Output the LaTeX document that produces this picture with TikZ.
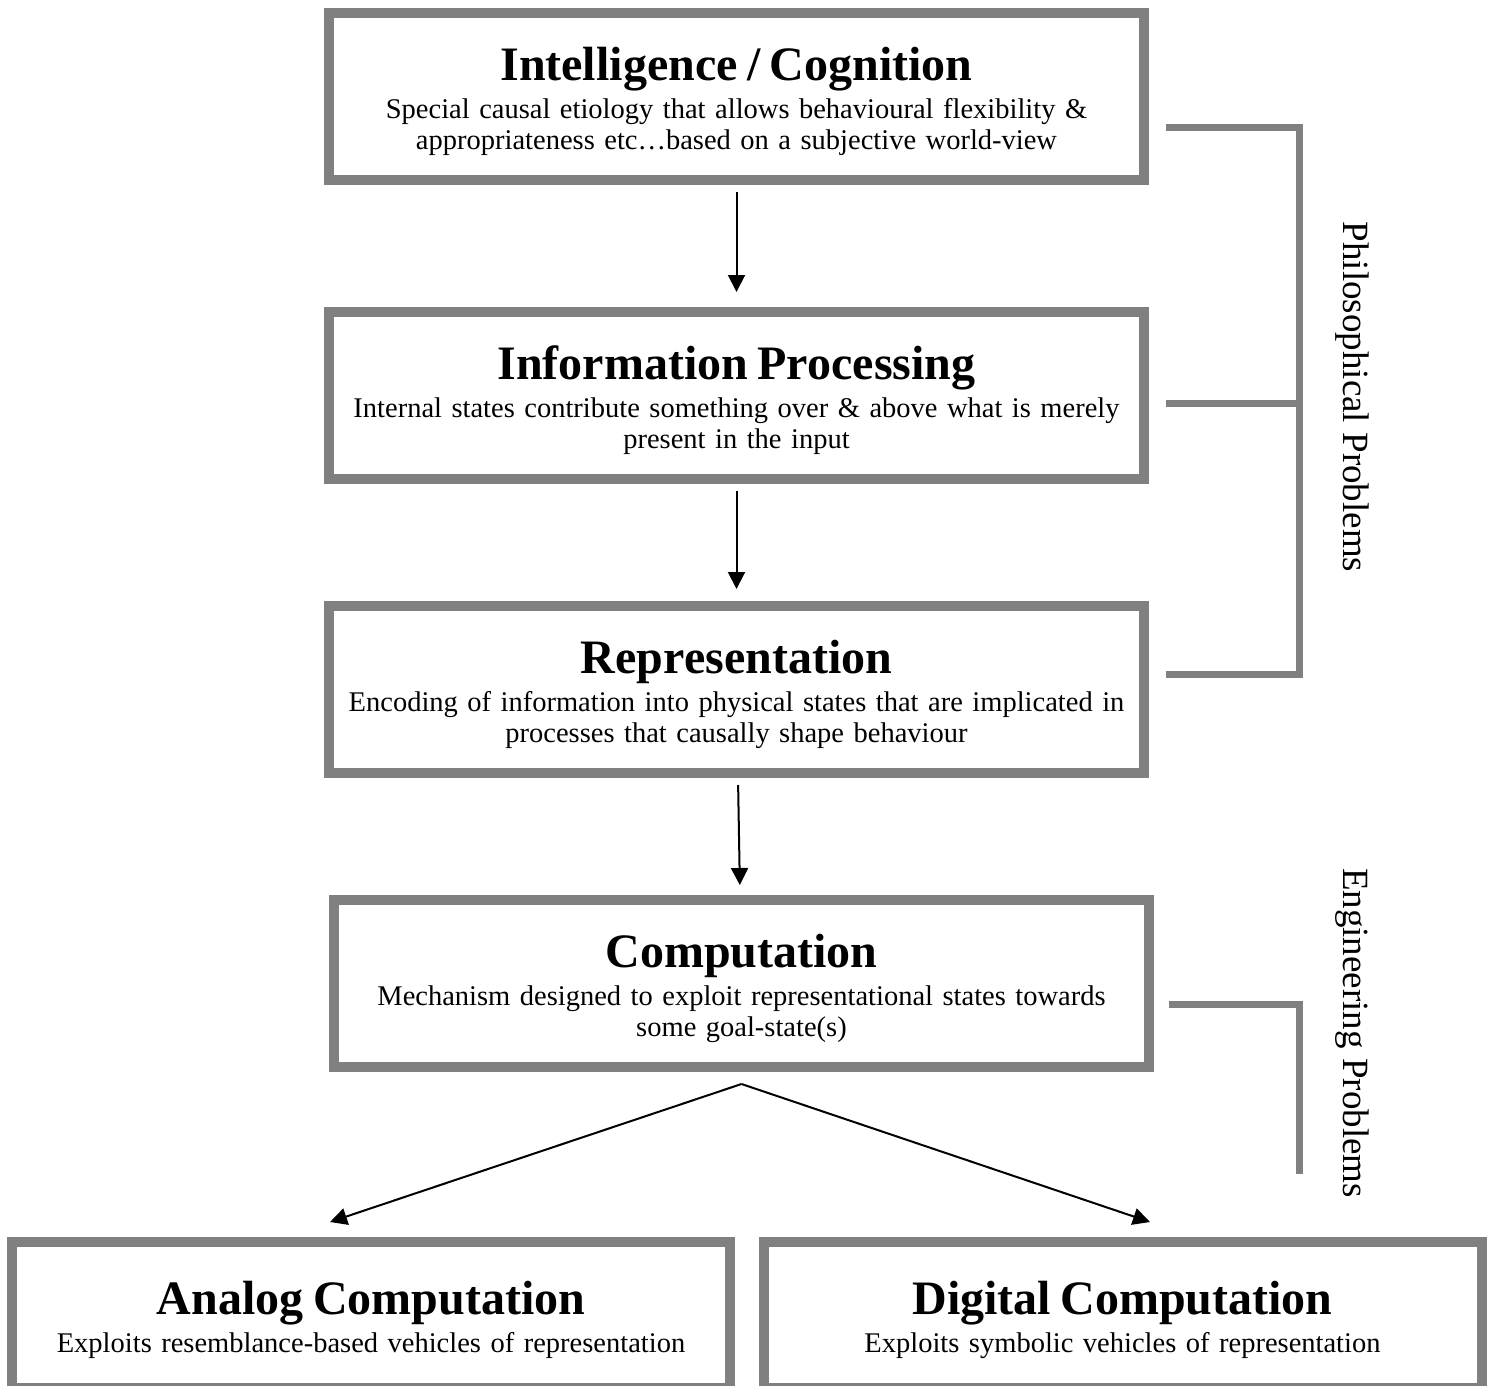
\documentclass[tikz,border=0pt]{standalone}
\usepackage{fontspec}
\setmainfont{Liberation Serif}
\usetikzlibrary{positioning, arrows.meta}

\newcommand{\boxtitle}[1]{\rule{0pt}{44pt}{\fontsize{48}{50}\selectfont\bfseries #1}\\[7pt]}

\begin{document}
\begin{tikzpicture}[
    x=1pt, y=-1pt,
    node distance=117pt,
    box/.style={rectangle, draw=gray, line width=10pt, minimum width=813pt, minimum height=167pt, text width=808pt, align=center, font=\fontsize{28.5}{31}\selectfont},
    leafbox/.style={box, minimum width=718pt, minimum height=146pt, text width=710pt},
    arrow/.style={-{Triangle[length=17pt, width=17pt]}, line width=2pt},
    bracket/.style={draw=gray, line width=7pt},
    side/.style={rotate=-90, font=\fontsize{37}{40}\selectfont}
]
\useasboundingbox (0,0) rectangle (1491,1386);

% Main chain
\node[box] (intel) at (736.5,96.5) {\boxtitle{Intelligence / Cognition}Special causal etiology that allows behavioural flexibility \&\\appropriateness etc\dots based on a subjective world-view};
\node[box, below=122pt of intel] (info) {\boxtitle{Information Processing}Internal states contribute something over \& above what is merely\\present in the input};
\node[box, below=of info] (repr) {\boxtitle{Representation}Encoding of information into physical states that are implicated in\\processes that causally shape behaviour};
\node[box, below=of repr, xshift=5pt] (comp) {\boxtitle{Computation}Mechanism designed to exploit representational states towards\\some goal-state(s)};

% Two kinds of computation
\node[leafbox, below=165pt of comp, xshift=-370.5pt] (analog) {\boxtitle{Analog Computation}Exploits resemblance-based vehicles of representation};
\node[leafbox, below=165pt of comp, xshift=381pt] (digital) {\boxtitle{Digital Computation}Exploits symbolic vehicles of representation};

% Arrows
\draw[arrow, shorten <=7pt, shorten >=15pt] (intel) -- (info);
\draw[arrow, shorten <=7pt, shorten >=12pt] (info) -- (repr);
\draw[arrow, shorten <=7pt, shorten >=10pt] (repr) -- (comp);
\coordinate (fork) at ([yshift=-12pt]comp.south);
\coordinate (toanalog) at ([xshift=-41pt, yshift=15pt]analog.north);
\coordinate (todigital) at ([xshift=27.5pt, yshift=15pt]digital.north);
\draw[arrow] (fork) -- (toanalog);
\draw[arrow] (fork) -- (todigital);

% Brackets
\coordinate (phtop) at ([xshift=17pt, yshift=-31.5pt]intel.east);
\coordinate (phmid) at ([xshift=17pt, yshift=-8pt]info.east);
\coordinate (phbot) at ([xshift=17pt, yshift=15pt]repr.east);
\draw[bracket] (phtop) -- ++(134,0) |- (phbot);
\draw[bracket] (phmid) -- ++(134,0);
\coordinate (engtop) at ([xshift=15pt, yshift=-20.5pt]comp.east);
\draw[bracket] (engtop) -- ++(131,0) -- ++(0,170);

\node[side] (philo) at (1352,397) {Philosophical Problems};
\node[side] (engin) at (1352,1033) {Engineering Problems};

\end{tikzpicture}
\end{document}
